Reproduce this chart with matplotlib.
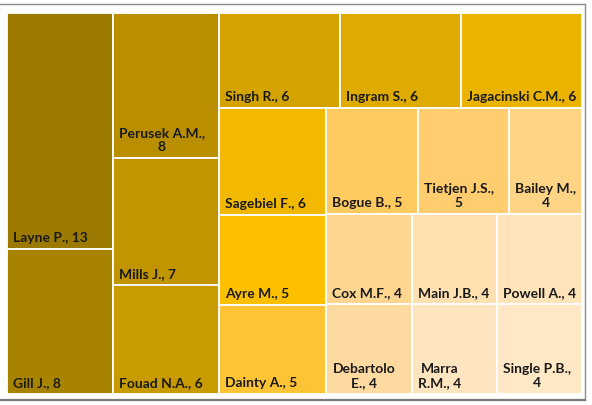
import matplotlib
matplotlib.use("Agg")
import matplotlib.pyplot as plt
from matplotlib.patches import Rectangle
from matplotlib.lines import Line2D

# label text as shown (with the wraps used in the original)
labels = ["Layne P., 13", "Gill J., 8", "Perusek A.M.,\n8", "Mills J., 7", "Fouad N.A., 6",
          "Singh R., 6", "Ingram S., 6", "Jagacinski C.M., 6", "Sagebiel F., 6", "Ayre M., 5",
          "Dainty A., 5", "Bogue B., 5", "Tietjen J.S.,\n5", "Bailey M.,\n4", "Cox M.F., 4",
          "Debartolo\nE., 4", "Main J.B., 4", "Powell A., 4", "Marra\nR.M., 4", "Single P.B.,\n4"]
papers = [13, 8, 8, 7, 6, 6, 6, 6, 6, 5, 5, 5, 5, 4, 4, 4, 4, 4, 4, 4]

colors = ["#9c7a00", "#a88300", "#b98f00", "#c09500", "#c89b00",
          "#d4a300", "#e0ab00", "#eab300", "#f3b900", "#fdc000",
          "#ffc435", "#ffca60", "#ffcd6e", "#ffd485", "#ffd690",
          "#ffdaa0", "#ffe0b0", "#ffe3b9", "#ffe5bf", "#ffe8c6"]

W, H = 592, 405
x0, y0, x1, y1 = 7, 13, 582, 394   # plot area in pixels


def last_ratio(vals, side, unit):
    thick = sum(vals) * unit / side
    length = vals[-1] * unit / thick
    return max(thick / length, length / thick)


def treemap(vals, w, h):
    unit = w * h / sum(vals)
    rects = []
    x, y = 0.0, 0.0
    i = 0
    while i < len(vals):
        column = w >= h
        side = h if column else w
        j = i + 1
        while j < len(vals) and last_ratio(vals[i:j + 1], side, unit) <= last_ratio(vals[i:j], side, unit):
            j += 1
        strip = vals[i:j]
        thick = sum(strip) * unit / side
        pos = 0.0
        for v in strip:
            length = v * unit / thick
            if column:
                rects.append((x, y + pos, thick, length))
            else:
                rects.append((x + pos, y, length, thick))
            pos += length
        if column:
            x += thick
            w -= thick
        else:
            y += thick
            h -= thick
        i = j
    return rects


fig = plt.figure(figsize=(W / 100, H / 100), dpi=100)
ax = fig.add_axes([x0 / W, 1 - y1 / H, (x1 - x0) / W, (y1 - y0) / H])
ax.set_xlim(0, x1 - x0)
ax.set_ylim(y1 - y0, 0)
ax.axis("off")

rects = treemap(papers, x1 - x0, y1 - y0)
font = dict(family=["Lato", "DejaVu Sans"], weight="bold", size=10, color="#1a1a1a")

for (rx, ry, rw, rh), lab, col in zip(rects, labels, colors):
    ax.add_patch(Rectangle((rx, ry), rw, rh, facecolor=col, edgecolor="white", linewidth=1.3))
    ax.annotate(lab, (rx, ry + rh), xytext=(6, 5), textcoords="offset pixels",
                ha="left", va="bottom", multialignment="center", linespacing=1.2, **font)

# outer chart frame
fig.add_artist(Line2D([0, 585 / W], [1 - 4 / H, 1 - 4 / H], color="#8c8c8c", lw=1.0))
fig.add_artist(Line2D([585 / W, 585 / W], [1 - 4 / H, 1 - 400 / H], color="#8c8c8c", lw=1.0))
fig.add_artist(Line2D([0, 585 / W], [1 - 400 / H, 1 - 400 / H], color="#7a7a7a", lw=1.6))

fig.savefig("out.png", dpi=100)
